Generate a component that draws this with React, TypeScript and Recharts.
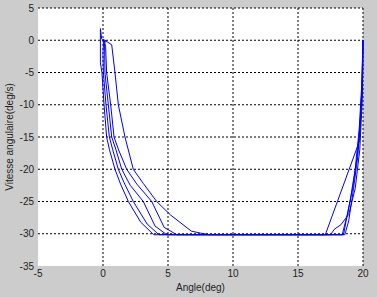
import React from 'react';
import { LineChart, Line, XAxis, YAxis, CartesianGrid } from 'recharts';

// each run: [angle (deg), angular speed (deg/s)], from 20 deg back down to 0
const run1 = [
    [20, 0], [19.95, -6], [19.8, -12], [19.55, -18], [19.2, -23], [18.8, -27], [18.4, -30.15],
    [3.9, -30.15], [2.9, -28.2], [1.95, -25], [1.35, -22.3], [0.92, -20], [0.5, -17], [0.28, -15],
    [0.08, -10], [-0.08, -5], [-0.2, -3.5], [-0.2, 1.8], [-0.1, 0.2], [0, 0],
];
const run2 = [
    [20, 0], [19.9, -8], [19.75, -15.5], [17.1, -30.15],
    [4.3, -30.15], [3.4, -28.5], [2.33, -25], [1.6, -22], [1.18, -20], [0.75, -17], [0.49, -15],
    [0.23, -10], [0.03, -5], [0, -2], [0.05, 0],
];
const run3 = [
    [20, 0], [19.9, -7], [19.7, -14], [19.4, -20], [19.0, -25], [18.7, -28], [18.5, -30.15],
    [4.9, -30.15], [4.0, -28.8], [3.1, -25], [2.1, -22.5], [1.44, -20], [1.0, -17], [0.67, -15],
    [0.41, -10], [0.15, -5], [0.12, -0.5], [0.2, 0],
];
const run4 = [
    [20, 0], [19.95, -9], [19.75, -17], [19.4, -23], [18.9, -27], [18.3, -28.6], [17.8, -29.3], [17.5, -30.15],
    [5.67, -30.15], [4.7, -29], [3.75, -25], [2.6, -22.3], [1.82, -20], [1.2, -17], [0.85, -15],
    [0.59, -10], [0.28, -5], [0.2, -1], [0.1, 0],
];
const run5 = [
    [20, 0], [19.98, -5], [19.85, -11], [19.6, -18], [19.2, -24], [18.9, -28], [18.6, -30.15],
    [8.2, -30.15], [7.5, -29.9], [6.8, -29.6], [5.2, -27.1], [4.13, -25], [3.1, -22.2], [2.33, -20],
    [1.69, -15], [1.18, -10], [0.92, -5], [0.67, -0.7], [0.02, 0.15], [0, 0],
];

const runs = [run1, run2, run3, run4, run5];

const xTicks = [-5, 0, 5, 10, 15, 20];
const yTicks = [-35, -30, -25, -20, -15, -10, -5, 0, 5];
const xGrid = [0, 5, 10, 15, 20];
const yGrid = [-30, -25, -20, -15, -10, -5, 0, 5];

const toPoints = (run: number[][]) => run.map(([x, y]) => ({ x, y }));

const tickStyle = { fontSize: 10, fill: '#222', fontFamily: '"Liberation Sans", Arial, sans-serif' };

export default function App() {
    return (
        <div style={{ position: 'absolute', left: 0, top: 0, width: 377, height: 297, background: '#cccccc' }}>
            <LineChart
                width={377}
                height={297}
                margin={{ top: 8, right: 14, bottom: 0, left: 8 }}
                style={{ fontFamily: '"Liberation Sans", Arial, sans-serif' }}
            >
                <CartesianGrid
                    fill="#ffffff"
                    stroke="#000"
                    strokeDasharray="2 2"
                    verticalValues={xGrid}
                    horizontalValues={yGrid}
                />
                <XAxis
                    type="number"
                    dataKey="x"
                    domain={[-5, 20]}
                    ticks={xTicks}
                    height={31}
                    axisLine={false}
                    tickLine={false}
                    tickSize={3}
                    tickMargin={1}
                    tick={tickStyle}
                    label={{ value: 'Angle(deg)', position: 'insideBottom', offset: 6, style: tickStyle }}
                />
                <YAxis
                    type="number"
                    dataKey="y"
                    domain={[-35, 5]}
                    ticks={yTicks}
                    width={30}
                    axisLine={false}
                    tickLine={false}
                    tickSize={4}
                    tickMargin={0}
                    tick={tickStyle}
                    label={{
                        value: 'Vitesse angulaire(deg/s)',
                        angle: -90,
                        position: 'insideLeft',
                        offset: 1,
                        style: { ...tickStyle, textAnchor: 'middle' },
                    }}
                />
                {runs.map((run, i) => (
                    <Line
                        key={i}
                        data={toPoints(run)}
                        dataKey="y"
                        stroke="#0000ff"
                        strokeWidth={1}
                        dot={false}
                        activeDot={false}
                        isAnimationActive={false}
                    />
                ))}
            </LineChart>
        </div>
    );
}
